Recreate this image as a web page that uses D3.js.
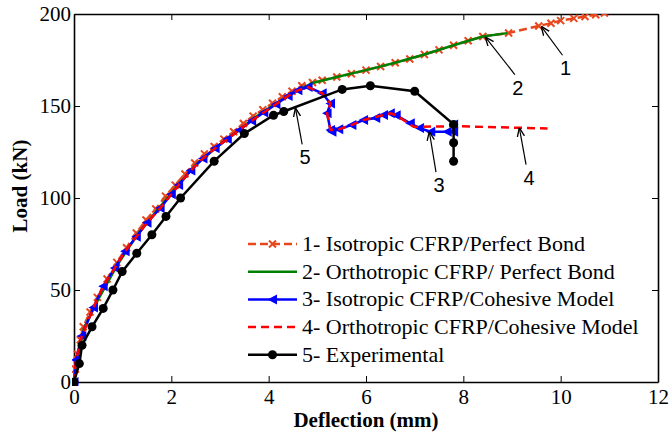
<!DOCTYPE html>
<html>
<head>
<meta charset="utf-8">
<script src="https://cdn.jsdelivr.net/npm/d3@7"></script>
<style>
body { margin: 0; background: #fff; }
</style>
</head>
<body>
<svg id="chart" width="672" height="435"></svg>
<script>
// series values [deflection mm, load kN]
const isoPerfect = [
  [0,0],[0.03,7],[0.07,15],[0.13,23],[0.19,30],[0.33,38],[0.48,46],[0.68,56],[0.88,65],
  [1.08,73],[1.28,81],[1.48,88],[1.68,94],[1.88,101],[2.08,107],[2.28,113],[2.48,119],[2.68,124],
  [2.88,128],[3.08,132],[3.28,136],[3.48,140.5],[3.68,144.5],[3.88,148],[4.08,151.5],[4.28,155],
  [4.48,158],[4.68,161],[4.9,162.8],[5.1,164],[5.4,165.8],[5.7,167.5],[6.0,169.5],[6.3,171.5],
  [6.6,173.5],[6.9,175.5],[7.2,178],[7.5,180.5],[7.8,183],[8.1,185.5],[8.4,187.8],
  [8.93,189.7],[9.55,193.5],[9.8,195],[10.0,196.4],[10.27,197.6],[10.5,198.6],[10.72,199.6],[10.9,200.5]
];
const orthoPerfect = [
  [0,0],[0.08,14],[0.2,29],[0.5,45],[0.9,64],[1.3,80],[1.7,93],[2.1,106],[2.5,118],
  [2.9,127],[3.3,135],[3.7,143.5],[4.1,150.5],[4.5,157],[4.9,162.5],[5.4,165.8],[6.0,169.5],
  [6.6,173.5],[7.2,178],[7.8,183],[8.4,187.8],[8.9,189.6]
];
const isoCohesive = [
  [0,0],[0.04,12],[0.16,25],[0.4,40.5],[0.6,52],[0.84,62],[1.05,71],[1.28,79],[1.5,86.5],
  [1.77,94.5],[2.0,102],[2.15,107],[2.4,115],[2.65,121.5],[2.9,127],[3.15,132],[3.4,137],
  [3.65,142],[3.9,146.5],[4.15,151],[4.4,155.5],[4.6,158.5],[4.81,160.3],[5.1,156.9],
  [5.27,151.4],[5.2,146],[5.27,137],[5.3,136],[5.44,137.3],[5.71,139.7],[5.95,142.4],
  [6.2,143.5],[6.36,145.1],[6.5,146],[6.62,145],[6.91,140.6],[7.1,138],[7.33,136],
  [7.67,136],[7.8,136],[7.8,140]
];
const orthoCohesive = [
  [0,0],[0.04,12],[0.16,25],[0.4,40.5],[0.6,52],[0.84,62],[1.05,71],[1.28,79],[1.5,86.5],
  [1.77,94.5],[2.0,102],[2.15,107],[2.4,115],[2.65,121.5],[2.9,127],[3.15,132],[3.4,137],
  [3.65,142],[3.9,146.5],[4.15,151],[4.4,155.5],[4.6,158.5],[4.81,160.3],[5.1,156.9],
  [5.27,151.4],[5.2,146],[5.27,137],[5.44,137.3],[5.71,139.7],[5.95,142.4],[6.36,145.1],
  [6.5,146],[6.62,145],[6.98,138.7],[7.87,139],[9.73,137.8]
];
const experimental = [
  [0,0],[0.11,10],[0.165,20],[0.37,30],[0.6,40],[0.8,50],[0.99,60],[1.29,70],[1.6,80],
  [1.89,90],[2.19,100],[2.88,120],[3.5,135],[4.1,145],[4.31,147],[5.51,159],[6.09,161],
  [7.0,158],[7.8,140],[7.8,130],[7.8,120]
];
const legendLabels = [
  "1- Isotropic CFRP/Perfect Bond",
  "2- Orthotropic CFRP/ Perfect Bond",
  "3- Isotropic CFRP/Cohesive Model",
  "4- Orthotropic CFRP/Cohesive Model",
  "5- Experimental"
];
const xTicks = [0, 2, 4, 6, 8, 10, 12];
const yTicks = [0, 50, 100, 150, 200];
// curve labels: text, text position, arrow tip (data units)
const callouts = [
  { t: "1", tx: 10.1, ty: 176.5, px: 9.6, py: 193.3 },
  { t: "2", tx: 9.12, ty: 166, px: 8.45, py: 187.6 },
  { t: "3", tx: 7.5, ty: 113, px: 7.3, py: 136.2 },
  { t: "4", tx: 9.35, ty: 117, px: 9.15, py: 138.2 },
  { t: "5", tx: 4.75, ty: 128, px: 4.55, py: 149 }
];

const SERIF = "Times New Roman, Liberation Serif, DejaVu Serif, serif";
const svg = d3.select("#chart");
const x = d3.scaleLinear().domain([0, 12]).range([74, 658]);
const y = d3.scaleLinear().domain([0, 200]).range([382, 14]);

svg.append("defs").append("clipPath").attr("id", "plot")
  .append("rect").attr("x", 72).attr("y", 14).attr("width", 588).attr("height", 372);

function styleAxis(g) {
  g.attr("font-family", SERIF).attr("font-size", 21);
  g.selectAll("path.domain").attr("stroke", "#000").attr("stroke-width", 1.6);
  g.selectAll(".tick line").attr("stroke", "#000").attr("stroke-width", 1);
  g.selectAll(".tick text").attr("fill", "#000");
}

svg.append("g").attr("transform", "translate(0,382)")
  .call(d3.axisBottom(x).tickValues(xTicks).tickSizeInner(-6).tickSizeOuter(0).tickPadding(7))
  .call(styleAxis);
svg.append("g").attr("transform", "translate(0,14)")
  .call(d3.axisTop(x).tickValues(xTicks).tickSizeInner(-6).tickSizeOuter(0).tickFormat(""))
  .call(styleAxis);
svg.append("g").attr("transform", "translate(74,0)")
  .call(d3.axisLeft(y).tickValues(yTicks).tickSizeInner(-6).tickSizeOuter(0).tickPadding(3))
  .call(styleAxis);
svg.append("g").attr("transform", "translate(658,0)")
  .call(d3.axisRight(y).tickValues(yTicks).tickSizeInner(-6).tickSizeOuter(0).tickFormat(""))
  .call(styleAxis);

svg.append("text").attr("x", 366).attr("y", 427).attr("text-anchor", "middle")
  .attr("font-family", SERIF).attr("font-size", 21).attr("font-weight", "bold").text("Deflection (mm)");
svg.append("text").attr("transform", "translate(27,186) rotate(-90)").attr("text-anchor", "middle")
  .attr("font-family", SERIF).attr("font-size", 21).attr("font-weight", "bold").text("Load (kN)");

const line = d3.line().x(d => x(d[0])).y(d => y(d[1]));
const plot = svg.append("g").attr("clip-path", "url(#plot)");

const crossPath = "M-3.5,-3.5L3.5,3.5M-3.5,3.5L3.5,-3.5";
const triPath = "M-5,0L4.5,-5L4.5,5Z";

function drawCross(g, cx, cy, col) {
  g.append("path").attr("d", crossPath).attr("transform", `translate(${cx},${cy})`)
    .attr("fill", "none").attr("stroke", col).attr("stroke-width", 2);
}

// 1 - orange dashed with crosses
plot.append("path").attr("d", line(isoPerfect)).attr("fill", "none")
  .attr("stroke", "#E8471E").attr("stroke-width", 2.5).attr("stroke-dasharray", "8,4");
isoPerfect.forEach(d => drawCross(plot, x(d[0]), y(d[1]), "#E8471E"));
// 2 - green
plot.append("path").attr("d", line(orthoPerfect)).attr("fill", "none")
  .attr("stroke", "#008000").attr("stroke-width", 2.5);
// 3 - blue with triangles
plot.append("path").attr("d", line(isoCohesive)).attr("fill", "none")
  .attr("stroke", "#0000FF").attr("stroke-width", 2.5);
plot.selectAll("path.tri").data(isoCohesive).enter().append("path").attr("class", "tri")
  .attr("d", triPath).attr("transform", d => `translate(${x(d[0])},${y(d[1])})`)
  .attr("fill", "#0000FF");
// 4 - red dashed
plot.append("path").attr("d", line(orthoCohesive)).attr("fill", "none")
  .attr("stroke", "#FF0000").attr("stroke-width", 2.5).attr("stroke-dasharray", "8,5");
// 5 - experimental
plot.append("path").attr("d", line(experimental)).attr("fill", "none")
  .attr("stroke", "#000").attr("stroke-width", 2.5);
plot.selectAll("circle.exp").data(experimental).enter().append("circle").attr("class", "exp")
  .attr("cx", d => x(d[0])).attr("cy", d => y(d[1])).attr("r", 4.5).attr("fill", "#000");

// callouts
svg.select("defs").append("marker").attr("id", "arr").attr("viewBox", "0 0 10 10")
  .attr("refX", 10).attr("refY", 5).attr("markerWidth", 9).attr("markerHeight", 9)
  .attr("orient", "auto").attr("markerUnits", "userSpaceOnUse")
  .append("path").attr("d", "M0,1L10,5L0,9").attr("fill", "none").attr("stroke", "#000").attr("stroke-width", 1.5);
callouts.forEach(c => {
  svg.append("line").attr("x1", x(c.tx) - 3).attr("y1", y(c.ty) - 2)
    .attr("x2", x(c.px)).attr("y2", y(c.py))
    .attr("stroke", "#000").attr("stroke-width", 1.2).attr("marker-end", "url(#arr)");
  svg.append("text").attr("x", x(c.tx)).attr("y", y(c.ty) + 18).attr("text-anchor", "middle")
    .attr("font-family", "Liberation Sans, Arial, sans-serif").attr("font-size", 20).text(c.t);
});

// legend
const leg = svg.append("g");
legendLabels.forEach((lab, i) => {
  const ly = 244 + i * 27.7;
  const g = leg.append("g");
  if (i === 0) {
    g.append("line").attr("x1", 248).attr("x2", 297).attr("y1", ly).attr("y2", ly)
      .attr("stroke", "#E8471E").attr("stroke-width", 2.5).attr("stroke-dasharray", "8,4");
    drawCross(g, 272.5, ly, "#E8471E");
  } else if (i === 1) {
    g.append("line").attr("x1", 248).attr("x2", 297).attr("y1", ly).attr("y2", ly)
      .attr("stroke", "#008000").attr("stroke-width", 2.5);
  } else if (i === 2) {
    g.append("line").attr("x1", 248).attr("x2", 297).attr("y1", ly).attr("y2", ly)
      .attr("stroke", "#0000FF").attr("stroke-width", 2.5);
    g.append("path").attr("d", triPath).attr("transform", `translate(272.5,${ly})`).attr("fill", "#0000FF");
  } else if (i === 3) {
    g.append("line").attr("x1", 248).attr("x2", 297).attr("y1", ly).attr("y2", ly)
      .attr("stroke", "#FF0000").attr("stroke-width", 2.5).attr("stroke-dasharray", "8,5");
  } else {
    g.append("line").attr("x1", 248).attr("x2", 297).attr("y1", ly).attr("y2", ly)
      .attr("stroke", "#000").attr("stroke-width", 2.5);
    g.append("circle").attr("cx", 272.5).attr("cy", ly).attr("r", 4.5).attr("fill", "#000");
  }
  g.append("text").attr("x", 302).attr("y", ly + 7)
    .attr("font-family", SERIF).attr("font-size", 22).text(lab);
});
</script>
</body>
</html>
